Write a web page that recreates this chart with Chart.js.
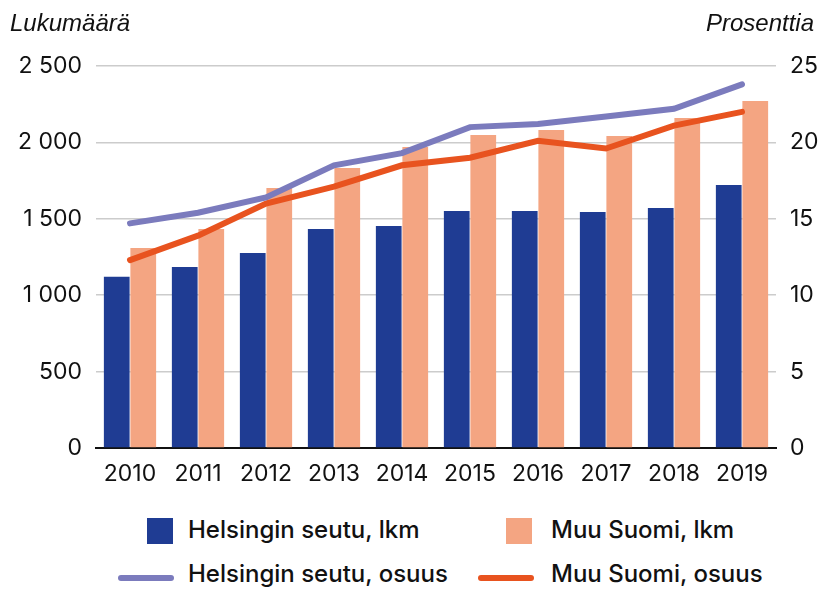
<!DOCTYPE html>
<html>
<head>
<meta charset="utf-8">
<script src="https://cdn.jsdelivr.net/npm/chart.js@4/dist/chart.umd.min.js"></script>
<style>
  html, body { margin: 0; padding: 0; background: #fff; }
  #wrap { position: relative; width: 824px; height: 589px; font-family: Inter, "Liberation Sans", sans-serif; }
  #chartBox { position: absolute; left: 0; top: 0; width: 824px; height: 500px; }
  .axisTitle { position: absolute; top: 9px; font-family: "Liberation Sans", sans-serif; font-style: italic; font-size: 24px; color: #111; }
  .leg { position: absolute; font-size: 24px; font-weight: 500; color: #111; white-space: nowrap; }
  .sw { position: absolute; }
</style>
</head>
<body>
<div id="wrap">
  <div id="chartBox"><canvas id="kaavio"></canvas></div>
  <div class="axisTitle" style="left:10px">Lukumäärä</div>
  <div class="axisTitle" style="right:10px">Prosenttia</div>

  <div class="sw" style="left:147px; top:518px; width:26px; height:26px; background:#1f3c93"></div>
  <div class="leg" style="left:188px; top:515px">Helsingin seutu, lkm</div>
  <div class="sw" style="left:506px; top:518px; width:26px; height:26px; background:#f4a582"></div>
  <div class="leg" style="left:551px; top:515px">Muu Suomi, lkm</div>

  <div class="sw" style="left:118px; top:575px; width:56px; height:6px; border-radius:3px; background:#7b7bbd"></div>
  <div class="leg" style="left:188px; top:559px">Helsingin seutu, osuus</div>
  <div class="sw" style="left:478px; top:575px; width:56px; height:6px; border-radius:3px; background:#e8531f"></div>
  <div class="leg" style="left:551px; top:559px">Muu Suomi, osuus</div>
</div>

<script>
// vuodet ja sarjat
const vuodet = ['2010', '2011', '2012', '2013', '2014', '2015', '2016', '2017', '2018', '2019'];
const helsinkiLkm = [1120, 1185, 1276, 1433, 1453, 1551, 1551, 1545, 1571, 1721];
const muuSuomiLkm = [1309, 1433, 1702, 1832, 1970, 2048, 2081, 2042, 2160, 2271];
const helsinkiOsuus = [14.7, 15.4, 16.4, 18.5, 19.3, 21.0, 21.2, 21.7, 22.2, 23.8];
const muuSuomiOsuus = [12.3, 13.9, 16.0, 17.1, 18.5, 19.0, 20.1, 19.6, 21.1, 22.0];

function tuhaterotin(v) {
    return String(v).replace(/\B(?=(\d{3})+(?!\d))/g, ' ');
}

const tickFont = { family: 'Inter, "Liberation Sans", sans-serif', size: 23 };

new Chart(document.getElementById('kaavio'), {
    type: 'bar',
    data: {
        labels: vuodet,
        datasets: [
            {
                type: 'line',
                label: 'Helsingin seutu, osuus',
                data: helsinkiOsuus,
                yAxisID: 'y1',
                borderColor: '#7b7bbd',
                borderWidth: 6,
                borderCapStyle: 'round',
                pointRadius: 0,
                tension: 0,
                order: 0
            },
            {
                type: 'line',
                label: 'Muu Suomi, osuus',
                data: muuSuomiOsuus,
                yAxisID: 'y1',
                borderColor: '#e8531f',
                borderWidth: 6,
                borderCapStyle: 'round',
                pointRadius: 0,
                tension: 0,
                order: 0
            },
            {
                label: 'Helsingin seutu, lkm',
                data: helsinkiLkm,
                backgroundColor: '#1f3c93',
                yAxisID: 'y',
                categoryPercentage: 0.78,
                barPercentage: 0.97,
                order: 1
            },
            {
                label: 'Muu Suomi, lkm',
                data: muuSuomiLkm,
                backgroundColor: '#f4a582',
                yAxisID: 'y',
                categoryPercentage: 0.78,
                barPercentage: 0.97,
                order: 1
            }
        ]
    },
    options: {
        responsive: true,
        maintainAspectRatio: false,
        animation: false,
        layout: { padding: { top: 66, left: 0, right: 0, bottom: 0 } },
        plugins: {
            legend: { display: false },
            tooltip: { enabled: false }
        },
        scales: {
            x: {
                grid: { display: false, drawTicks: false },
                border: { display: true, color: '#111', width: 2 },
                ticks: { color: '#111', font: tickFont, padding: 12, maxRotation: 0 },
                afterFit: s => { s.height = 52; }
            },
            y: {
                position: 'left',
                min: 0,
                max: 2500,
                ticks: {
                    stepSize: 500,
                    color: '#111',
                    font: tickFont,
                    padding: 14,
                    callback: v => tuhaterotin(v)
                },
                grid: { color: '#cccccc', lineWidth: 1.5, drawTicks: false },
                border: { display: false },
                afterFit: s => { s.width = 96; }
            },
            y1: {
                position: 'right',
                min: 0,
                max: 25,
                ticks: { stepSize: 5, color: '#111', font: tickFont, padding: 14 },
                grid: { display: false, drawTicks: false },
                border: { display: false },
                afterFit: s => { s.width = 48; }
            }
        }
    }
});
</script>
</body>
</html>
